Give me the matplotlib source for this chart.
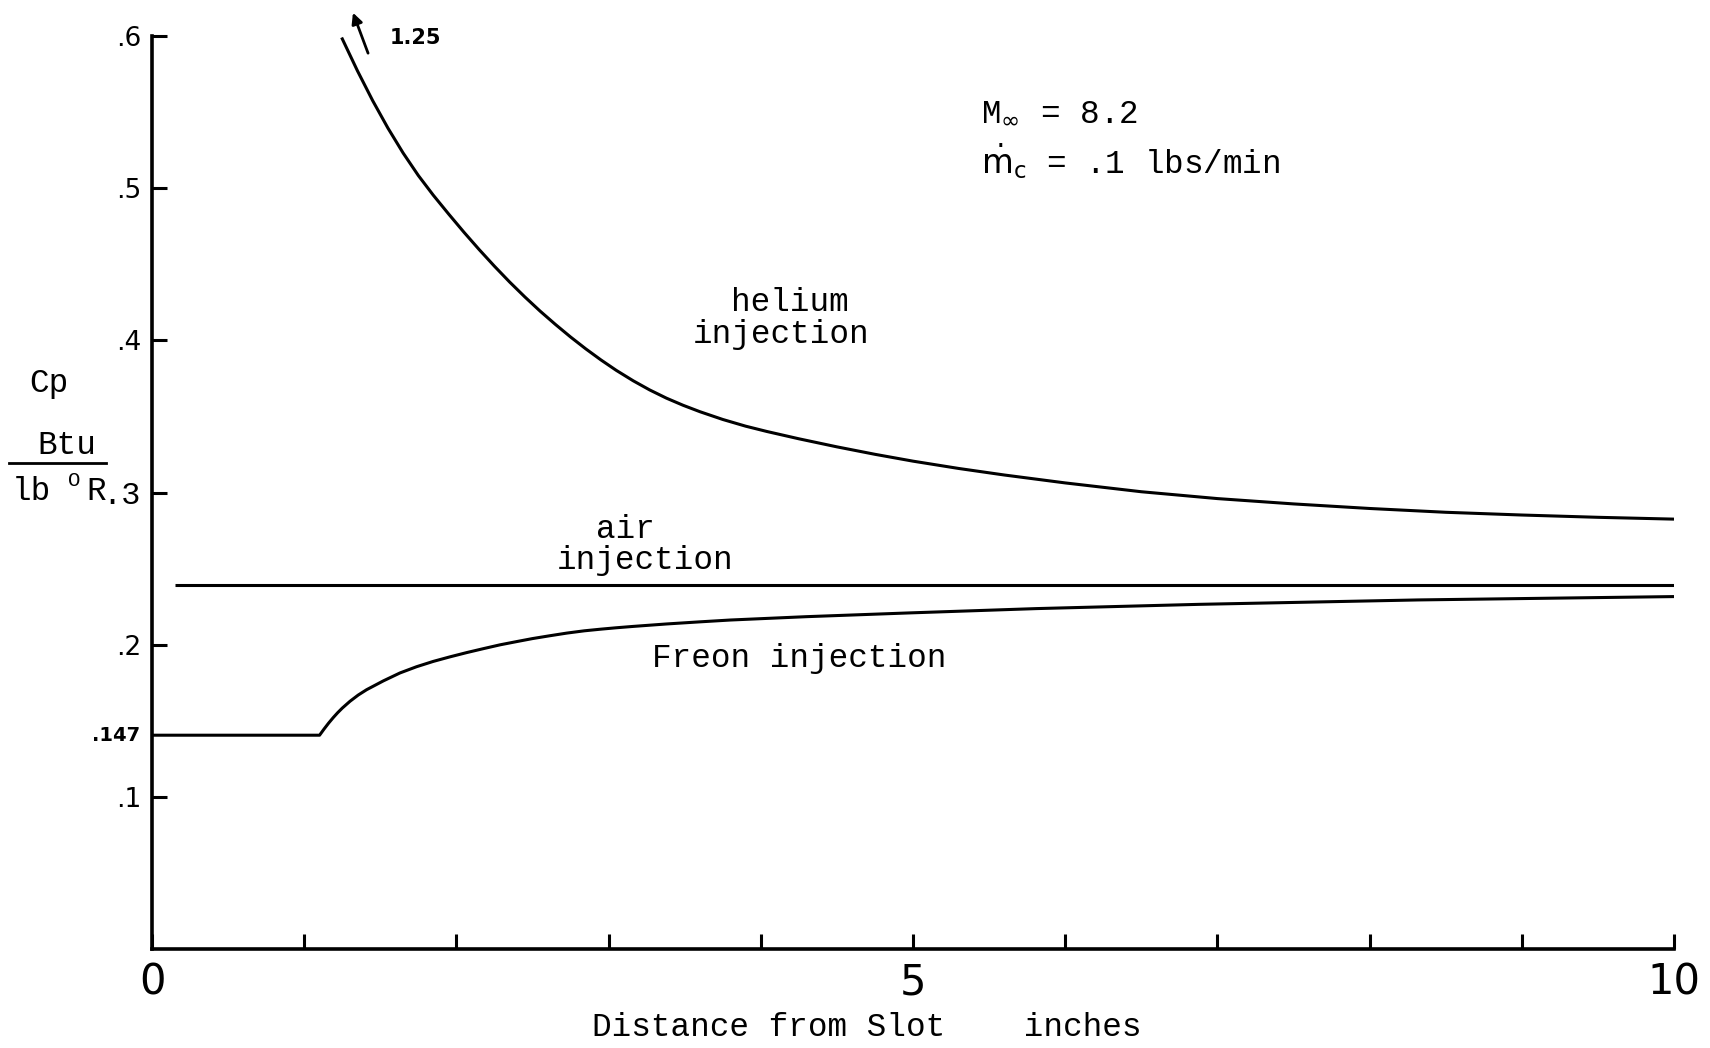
import matplotlib
matplotlib.use("Agg")
import matplotlib.pyplot as plt
from matplotlib.lines import Line2D

# valores (distancia en pulgadas, Cp en Btu/lb R)
helio_x = [1.246, 1.35, 1.45, 1.55, 1.65, 1.75, 1.848, 1.95, 2.05, 2.15,
           2.25, 2.35, 2.45, 2.55, 2.65, 2.75, 2.85, 2.95, 3.05, 3.162,
           3.27, 3.38, 3.49, 3.60, 3.75, 3.90, 4.04, 4.25, 4.50, 4.75,
           5.00, 5.30, 5.60, 6.00, 6.50, 7.00, 7.50, 8.00, 8.50, 9.00,
           9.50, 10.0]
helio_y = [0.599, 0.5771, 0.5575, 0.5395, 0.5231, 0.5083, 0.4954, 0.4829, 0.4710, 0.4596,
           0.4487, 0.4383, 0.4285, 0.4192, 0.4105, 0.4022, 0.3944, 0.3871, 0.3803, 0.3734,
           0.3674, 0.3620, 0.3573, 0.3531, 0.3480, 0.3436, 0.3401, 0.3353, 0.3300, 0.3251,
           0.3206, 0.3158, 0.3115, 0.3063, 0.3005, 0.2960, 0.2925, 0.2895, 0.2870, 0.2852,
           0.2837, 0.2825]

aire_x = [0.15, 10.0]
aire_y = [0.239, 0.239]

freon_x = [0.0, 1.101, 1.13, 1.16, 1.191, 1.22, 1.25, 1.301, 1.355, 1.41,
           1.52, 1.629, 1.738, 1.848, 1.958, 2.068, 2.178, 2.287, 2.40, 2.50,
           2.61, 2.725, 2.84, 2.95, 3.05, 3.162, 3.38, 3.60, 3.80, 4.30,
           4.985, 5.81, 6.88, 8.32, 10.0]
freon_y = [0.1405, 0.1405, 0.1445, 0.1484, 0.1521, 0.1553, 0.1583, 0.1628, 0.1669, 0.1704,
           0.1762, 0.1814, 0.1855, 0.1890, 0.1920, 0.1948, 0.1974, 0.1999, 0.2021, 0.2040,
           0.2058, 0.2076, 0.2091, 0.2102, 0.2111, 0.2120, 0.2136, 0.2150, 0.2162, 0.2184,
           0.2209, 0.2237, 0.2265, 0.2294, 0.2316]

x_ticks = list(range(0, 11))
x_labels = ["0", "", "", "", "", "5", "", "", "", "", "10"]
y_ticks = [0.1, 0.2, 0.3, 0.4, 0.5, 0.6]
y_labels = [".1", ".2", ".3", ".4", ".5", ".6"]

MONO = "Liberation Mono"
W, H = 1710, 1048


def fx(px):
    return px / W


def fy(py):
    return 1 - py / H


def graficar():
    fig = plt.figure(figsize=(17.1, 10.48), dpi=100)
    ax = fig.add_axes([fx(152), fy(949), fx(1674) - fx(152), fy(36) - fy(949)])

    kw = dict(color="black", lw=2.2, solid_capstyle="butt", solid_joinstyle="round")
    ax.plot(helio_x, helio_y, **kw)
    ax.plot(aire_x, aire_y, **kw)
    ax.plot(freon_x, freon_y, **kw)

    ax.set_xlim(0, 10)
    ax.set_ylim(0, 0.6)
    for s in ["top", "right"]:
        ax.spines[s].set_visible(False)
    for s in ["left", "bottom"]:
        ax.spines[s].set_linewidth(2.6)

    ax.set_xticks(x_ticks)
    ax.set_xticklabels(x_labels, fontsize=30, family="DejaVu Sans")
    ax.set_yticks(y_ticks)
    ax.set_yticklabels(y_labels, fontsize=19, family="DejaVu Sans")
    ax.tick_params(axis="x", direction="in", length=11, width=2.2, pad=9)
    ax.tick_params(axis="y", direction="in", length=11, width=2.2, pad=8)
    lbl3 = ax.get_yticklabels()[2]
    lbl3.set_family(MONO)
    lbl3.set_fontsize(23)

    # etiqueta del valor inicial de freon
    ax.text(-0.08, freon_y[0], ".147", ha="right", va="center", fontsize=14,
            family="DejaVu Sans", weight="bold")

    # flecha de 1.25
    ax.annotate("", xy=(1.314, 0.617), xytext=(1.426, 0.587),
                arrowprops=dict(arrowstyle="-|>", color="black", lw=2, mutation_scale=16),
                annotation_clip=False)
    ax.text(1.56, 0.599, "1.25", ha="left", va="center", fontsize=15,
            family="DejaVu Sans", weight="bold", clip_on=False)

    tkw = dict(family=MONO, fontsize=23.5, color="black")
    ax.text(4.19, 0.425, "helium", ha="center", va="center", **tkw)
    ax.text(4.13, 0.404, "injection", ha="center", va="center", **tkw)
    ax.text(3.11, 0.276, "air", ha="center", va="center", **tkw)
    ax.text(3.24, 0.255, "injection", ha="center", va="center", **tkw)
    ax.text(4.25, 0.1907, "Freon injection", ha="center", va="center", **tkw)
    ax.text(5.45, 0.5497, r"M$_{\infty}$ = 8.2", ha="left", va="center", **tkw)
    ax.text(5.45, 0.5175, r"$\dot{\rm m}_{\rm c}$ = .1 lbs/min", ha="left", va="center", **tkw)

    # titulo de eje y
    fig.text(fx(49), fy(384), "Cp", ha="center", va="center", **tkw)
    fig.text(fx(67), fy(446), "Btu", ha="center", va="center", **tkw)
    fig.add_artist(Line2D([fx(9), fx(106)], [fy(463), fy(463)], color="black", lw=2,
                          transform=fig.transFigure))
    fig.text(fx(12), fy(492), "lb", ha="left", va="center", **tkw)
    fig.text(fx(74), fy(481), "O", ha="center", va="center", family=MONO, fontsize=15)
    fig.text(fx(96), fy(492), "R", ha="center", va="center", **tkw)

    fig.text(fx(867), fy(1028), "Distance from Slot    inches", ha="center", va="center", **tkw)

    plt.savefig("out.png", dpi=100)


if __name__ == "__main__":
    graficar()
